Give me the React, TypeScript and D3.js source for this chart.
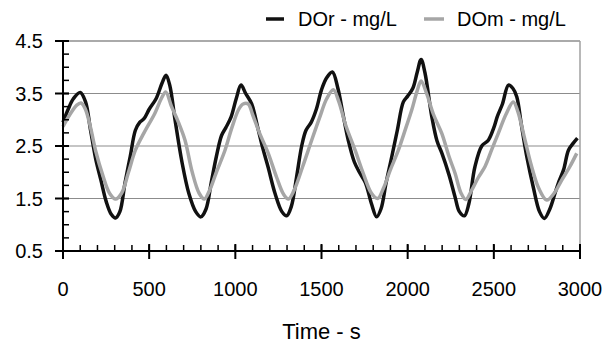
import React from "react";
import * as d3 from "d3";

const timeR = [0, 30, 60, 100, 130, 160, 190, 220, 250, 280, 305, 330, 360, 390, 420, 445, 470, 500, 540, 575, 598, 620, 650, 690, 730, 770, 800, 830, 860, 890, 920, 945, 975, 1005, 1033, 1060, 1095, 1130, 1160, 1190, 1230, 1270, 1298, 1325, 1355, 1385, 1410, 1440, 1470, 1500, 1530, 1563, 1595, 1625, 1656, 1690, 1720, 1755, 1790, 1820, 1845, 1875, 1908, 1940, 1975, 2000, 2030, 2055, 2078, 2100, 2140, 2170, 2200, 2240, 2275, 2300, 2329, 2355, 2390, 2430, 2468, 2500, 2520, 2550, 2585, 2610, 2633, 2660, 2691, 2730, 2765, 2793, 2825, 2855, 2875, 2905, 2933, 2960, 2985];
const doR = [2.95, 3.2, 3.4, 3.52, 3.35, 2.8, 2.25, 1.85, 1.45, 1.2, 1.13, 1.25, 1.8, 2.3, 2.8, 2.95, 3.02, 3.2, 3.4, 3.7, 3.85, 3.65, 3.0, 2.2, 1.6, 1.25, 1.15, 1.3, 1.8, 2.3, 2.7, 2.85, 3.05, 3.4, 3.66, 3.5, 3.3, 2.85, 2.45, 2.1, 1.6, 1.25, 1.17, 1.35, 1.9, 2.5, 2.8, 2.95, 3.2, 3.57, 3.8, 3.91, 3.6, 3.1, 2.6, 2.2, 2.0, 1.8, 1.4, 1.15, 1.3, 1.8, 2.3, 2.8, 3.34, 3.45, 3.6, 3.9, 4.15, 3.9, 3.06, 2.6, 2.35, 1.95, 1.53, 1.25, 1.17, 1.4, 2.1, 2.5, 2.61, 2.85, 3.06, 3.3, 3.66, 3.6, 3.44, 2.9, 2.3, 1.7, 1.25, 1.12, 1.3, 1.6, 1.8, 2.05, 2.42, 2.55, 2.65];

const timeM = [0, 40, 80, 105, 130, 160, 190, 230, 270, 305, 340, 380, 420, 470, 534, 570, 596, 630, 670, 708, 750, 790, 820, 850, 890, 940, 980, 1020, 1045, 1075, 1100, 1140, 1190, 1240, 1280, 1308, 1340, 1390, 1443, 1490, 1530, 1569, 1600, 1640, 1695, 1740, 1790, 1826, 1860, 1900, 1946, 1990, 2024, 2055, 2078, 2110, 2150, 2198, 2240, 2275, 2310, 2337, 2370, 2410, 2449, 2490, 2526, 2570, 2613, 2640, 2681, 2720, 2760, 2807, 2850, 2894, 2940, 2981];
const doM = [2.87, 3.1, 3.28, 3.32, 3.2, 2.85, 2.4, 1.95, 1.6, 1.49, 1.6, 2.0, 2.42, 2.75, 3.13, 3.4, 3.53, 3.25, 2.95, 2.61, 2.0, 1.6, 1.49, 1.65, 2.0, 2.42, 2.85, 3.2, 3.3, 3.3, 3.1, 2.75, 2.37, 1.9, 1.58, 1.49, 1.65, 2.1, 2.61, 3.05, 3.4, 3.57, 3.35, 2.9, 2.42, 2.0, 1.6, 1.5, 1.7, 2.05, 2.42, 2.85, 3.19, 3.55, 3.74, 3.5, 3.1, 2.74, 2.3, 1.98, 1.6, 1.48, 1.65, 1.9, 2.11, 2.45, 2.74, 3.1, 3.34, 3.15, 2.61, 2.1, 1.7, 1.47, 1.6, 1.85, 2.1, 2.36];

const xTicks = [0, 500, 1000, 1500, 2000, 2500, 3000];
const yTicks = [0.5, 1.5, 2.5, 3.5, 4.5];
const seriesNames = ["DOr - mg/L", "DOm - mg/L"];
const xTitle = "Time - s";

const W = 613, H = 346;
const L = 63, R = 580, T = 41, B = 251;
const FONT = "'Liberation Sans', Arial, sans-serif";

export default function App() {
  const x = d3.scaleLinear().domain([0, 3000]).range([L, R]);
  const y = d3.scaleLinear().domain([0.5, 4.5]).range([B, T]);
  const line = d3.line<[number, number]>().x(d => x(d[0])).y(d => y(d[1])).curve(d3.curveCatmullRom.alpha(0.5));
  const dR = line(timeR.map((t, i) => [t, doR[i]] as [number, number])) || "";
  const dM = line(timeM.map((t, i) => [t, doM[i]] as [number, number])) || "";
  const xMinor = d3.range(0, 3001, 100);
  const yMinor = d3.range(0.5, 4.51, 0.25);
  return (
    <svg width={W} height={H} style={{ position: "absolute", left: 0, top: 0, background: "#fff" }} fontFamily={FONT}>
      {/* gridlines */}
      {yTicks.slice(1).map(v => (
        <line key={"g" + v} x1={L} x2={R} y1={y(v)} y2={y(v)} stroke="#8c8c8c" strokeWidth={1.2} />
      ))}
      <line x1={R} x2={R} y1={T} y2={B} stroke="#a0a0a0" strokeWidth={1.5} />
      <line x1={L} x2={R} y1={T} y2={T} stroke="#a0a0a0" strokeWidth={1.5} />
      {/* series */}
      <path d={dR} fill="none" stroke="#111" strokeWidth={3.5} strokeLinejoin="round" />
      <path d={dM} fill="none" stroke="#a6a6a6" strokeWidth={3.5} strokeLinejoin="round" />
      {/* axes */}
      <line x1={L} x2={L} y1={T} y2={B} stroke="#000" strokeWidth={2} />
      <line x1={L} x2={R} y1={B} y2={B} stroke="#000" strokeWidth={2} />
      {yMinor.map(v => (
        <line key={"ym" + v} x1={L} x2={L + 6} y1={y(v)} y2={y(v)} stroke="#000" strokeWidth={1.5} />
      ))}
      {yTicks.map(v => (
        <line key={"yM" + v} x1={L - 8} x2={L + 6} y1={y(v)} y2={y(v)} stroke="#000" strokeWidth={2} />
      ))}
      {xMinor.map(v => (
        <line key={"xm" + v} x1={x(v)} x2={x(v)} y1={B} y2={B - 6} stroke="#000" strokeWidth={1.5} />
      ))}
      {xTicks.map(v => (
        <line key={"xM" + v} x1={x(v)} x2={x(v)} y1={B - 7} y2={B + 8} stroke="#000" strokeWidth={2} />
      ))}
      {yTicks.map(v => (
        <text key={"yl" + v} x={43} y={y(v)} dy="0.36em" textAnchor="end" fontSize={20} fill="#000">{v.toFixed(1)}</text>
      ))}
      {xTicks.map(v => (
        <text key={"xl" + v} x={x(v)} y={296} textAnchor="middle" fontSize={20} fill="#000">{v}</text>
      ))}
      <text x={(L + R) / 2} y={339} textAnchor="middle" fontSize={22} fill="#000">{xTitle}</text>
      {/* legend */}
      <line x1={266} x2={284} y1={19} y2={19} stroke="#111" strokeWidth={3.5} />
      <text x={298} y={19} dy="0.36em" fontSize={20} fill="#000">{seriesNames[0]}</text>
      <line x1={424} x2={444} y1={19} y2={19} stroke="#a6a6a6" strokeWidth={3.5} />
      <text x={457} y={19} dy="0.36em" fontSize={20} fill="#000">{seriesNames[1]}</text>
    </svg>
  );
}
